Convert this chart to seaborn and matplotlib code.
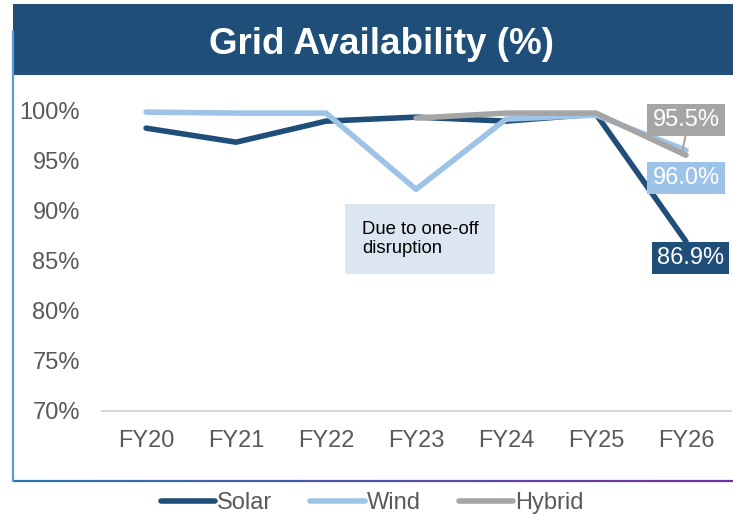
import numpy as np
import pandas as pd
import matplotlib
matplotlib.use("Agg")
import matplotlib.pyplot as plt
import seaborn as sns
from matplotlib.patches import Rectangle
from matplotlib.lines import Line2D
from matplotlib.collections import LineCollection
from matplotlib.colors import LinearSegmentedColormap

years = ["FY20", "FY21", "FY22", "FY23", "FY24", "FY25", "FY26"]
solar = [98.2, 96.8, 98.9, 99.3, 98.9, 99.6, 86.9]
wind = [99.8, 99.7, 99.7, 92.1, 99.1, 99.5, 96.0]
hybrid = [np.nan, np.nan, np.nan, 99.2, 99.7, 99.7, 95.5]
yticks = [70, 75, 80, 85, 90, 95, 100]
title = "Grid Availability (%)"
note = "Due to one-off\ndisruption"

colors = {"Solar": "#1F4E79", "Wind": "#9DC3E6", "Hybrid": "#A5A5A5"}

df = pd.DataFrame({
    "year": years * 3,
    "x": list(range(len(years))) * 3,
    "value": solar + wind + hybrid,
    "series": ["Solar"] * 7 + ["Wind"] * 7 + ["Hybrid"] * 7,
})

sns.set_theme(style="white")
plt.rcParams["font.family"] = ["Liberation Sans", "DejaVu Sans"]

W, H = 733, 515
fig = plt.figure(figsize=(W / 100, H / 100), dpi=100)
ax = fig.add_axes([102 / W, 1 - 411 / H, (731 - 102) / W, (411 - 80) / H])

sns.lineplot(data=df.dropna(), x="x", y="value", hue="series",
             palette=colors, linewidth=4, ax=ax, legend=False,
             hue_order=["Solar", "Wind", "Hybrid"], estimator=None, sort=False)
for ln in ax.lines:
    ln.set_solid_capstyle("round")
    ln.set_solid_joinstyle("round")

ax.set_xlim(-0.49, 6.5)
ax.set_ylim(70, 103)
ax.set_yticks(yticks)
ax.set_yticklabels([f"{v}%" for v in yticks], fontsize=17, color="#595959")
ax.set_xticks(range(len(years)))
ax.set_xticklabels(years, fontsize=17, color="#595959")
ax.tick_params(axis="x", pad=14, length=0)
ax.tick_params(axis="y", length=0, pad=16)
ax.set_xlabel("")
ax.set_ylabel("")
for s in ["top", "right", "left"]:
    ax.spines[s].set_visible(False)
ax.spines["bottom"].set_color("#D9D9D9")
ax.spines["bottom"].set_linewidth(1.5)
ax.patch.set_alpha(0)

# annotation box
ax.text(2.40, 87.15, note, fontsize=13.3, color="#000000", ha="left", va="center",
        linespacing=1.15,
        bbox=dict(boxstyle="square,pad=0.9", fc="#DCE6F2", ec="none"))

# end labels
ax.plot([6.0, 5.95], [97.7, 95.5], color="#A5A5A5", lw=1.5)
ax.text(6.0, 99.0, "95.5%", fontsize=17, color="white", ha="center", va="center",
        bbox=dict(boxstyle="square,pad=0.22", fc="#A5A5A5", ec="none"))
ax.text(6.0, 93.2, "96.0%", fontsize=17, color="white", ha="center", va="center",
        bbox=dict(boxstyle="square,pad=0.22", fc="#9DC3E6", ec="none"))
ax.text(6.05, 85.25, "86.9%", fontsize=17, color="white", ha="center", va="center",
        bbox=dict(boxstyle="square,pad=0.22", fc="#1F4E79", ec="none"))

# title banner
fig.patches.append(Rectangle((13 / W, 1 - 75 / H), 1 - 13 / W, 71 / H,
                             transform=fig.transFigure, fc="#1F4E79", ec="none", zorder=0))
fig.text(0.52, 1 - 44 / H, title, fontsize=26.5, fontweight="bold", color="white",
         ha="center", va="center")

# frame
fig.lines.append(Line2D([13 / W, 13 / W], [1 - 481 / H, 1 - 31 / H],
                        transform=fig.transFigure, color="#5B9BD5", lw=1.6))
xs = np.linspace(13 / W, 1, 60)
segs = [[(xs[i], 1 - 481 / H), (xs[i + 1], 1 - 481 / H)] for i in range(len(xs) - 1)]
cmap = LinearSegmentedColormap.from_list("frame", ["#2E75B6", "#7030A0"])
lc = LineCollection(segs, colors=[cmap(i / (len(segs) - 1)) for i in range(len(segs))],
                    linewidths=1.6, transform=fig.transFigure)
fig.add_artist(lc)

# legend
handles = [Line2D([0], [0], color=colors[k], lw=4, solid_capstyle="round") for k in colors]
fig.legend(handles, list(colors.keys()), loc="center", bbox_to_anchor=(0.508, 1 - 503 / H),
           ncol=3, frameon=False, fontsize=17, handlelength=2.3, handletextpad=0.1,
           columnspacing=1.6, labelcolor="#595959")

fig.savefig("out.png", dpi=100)
